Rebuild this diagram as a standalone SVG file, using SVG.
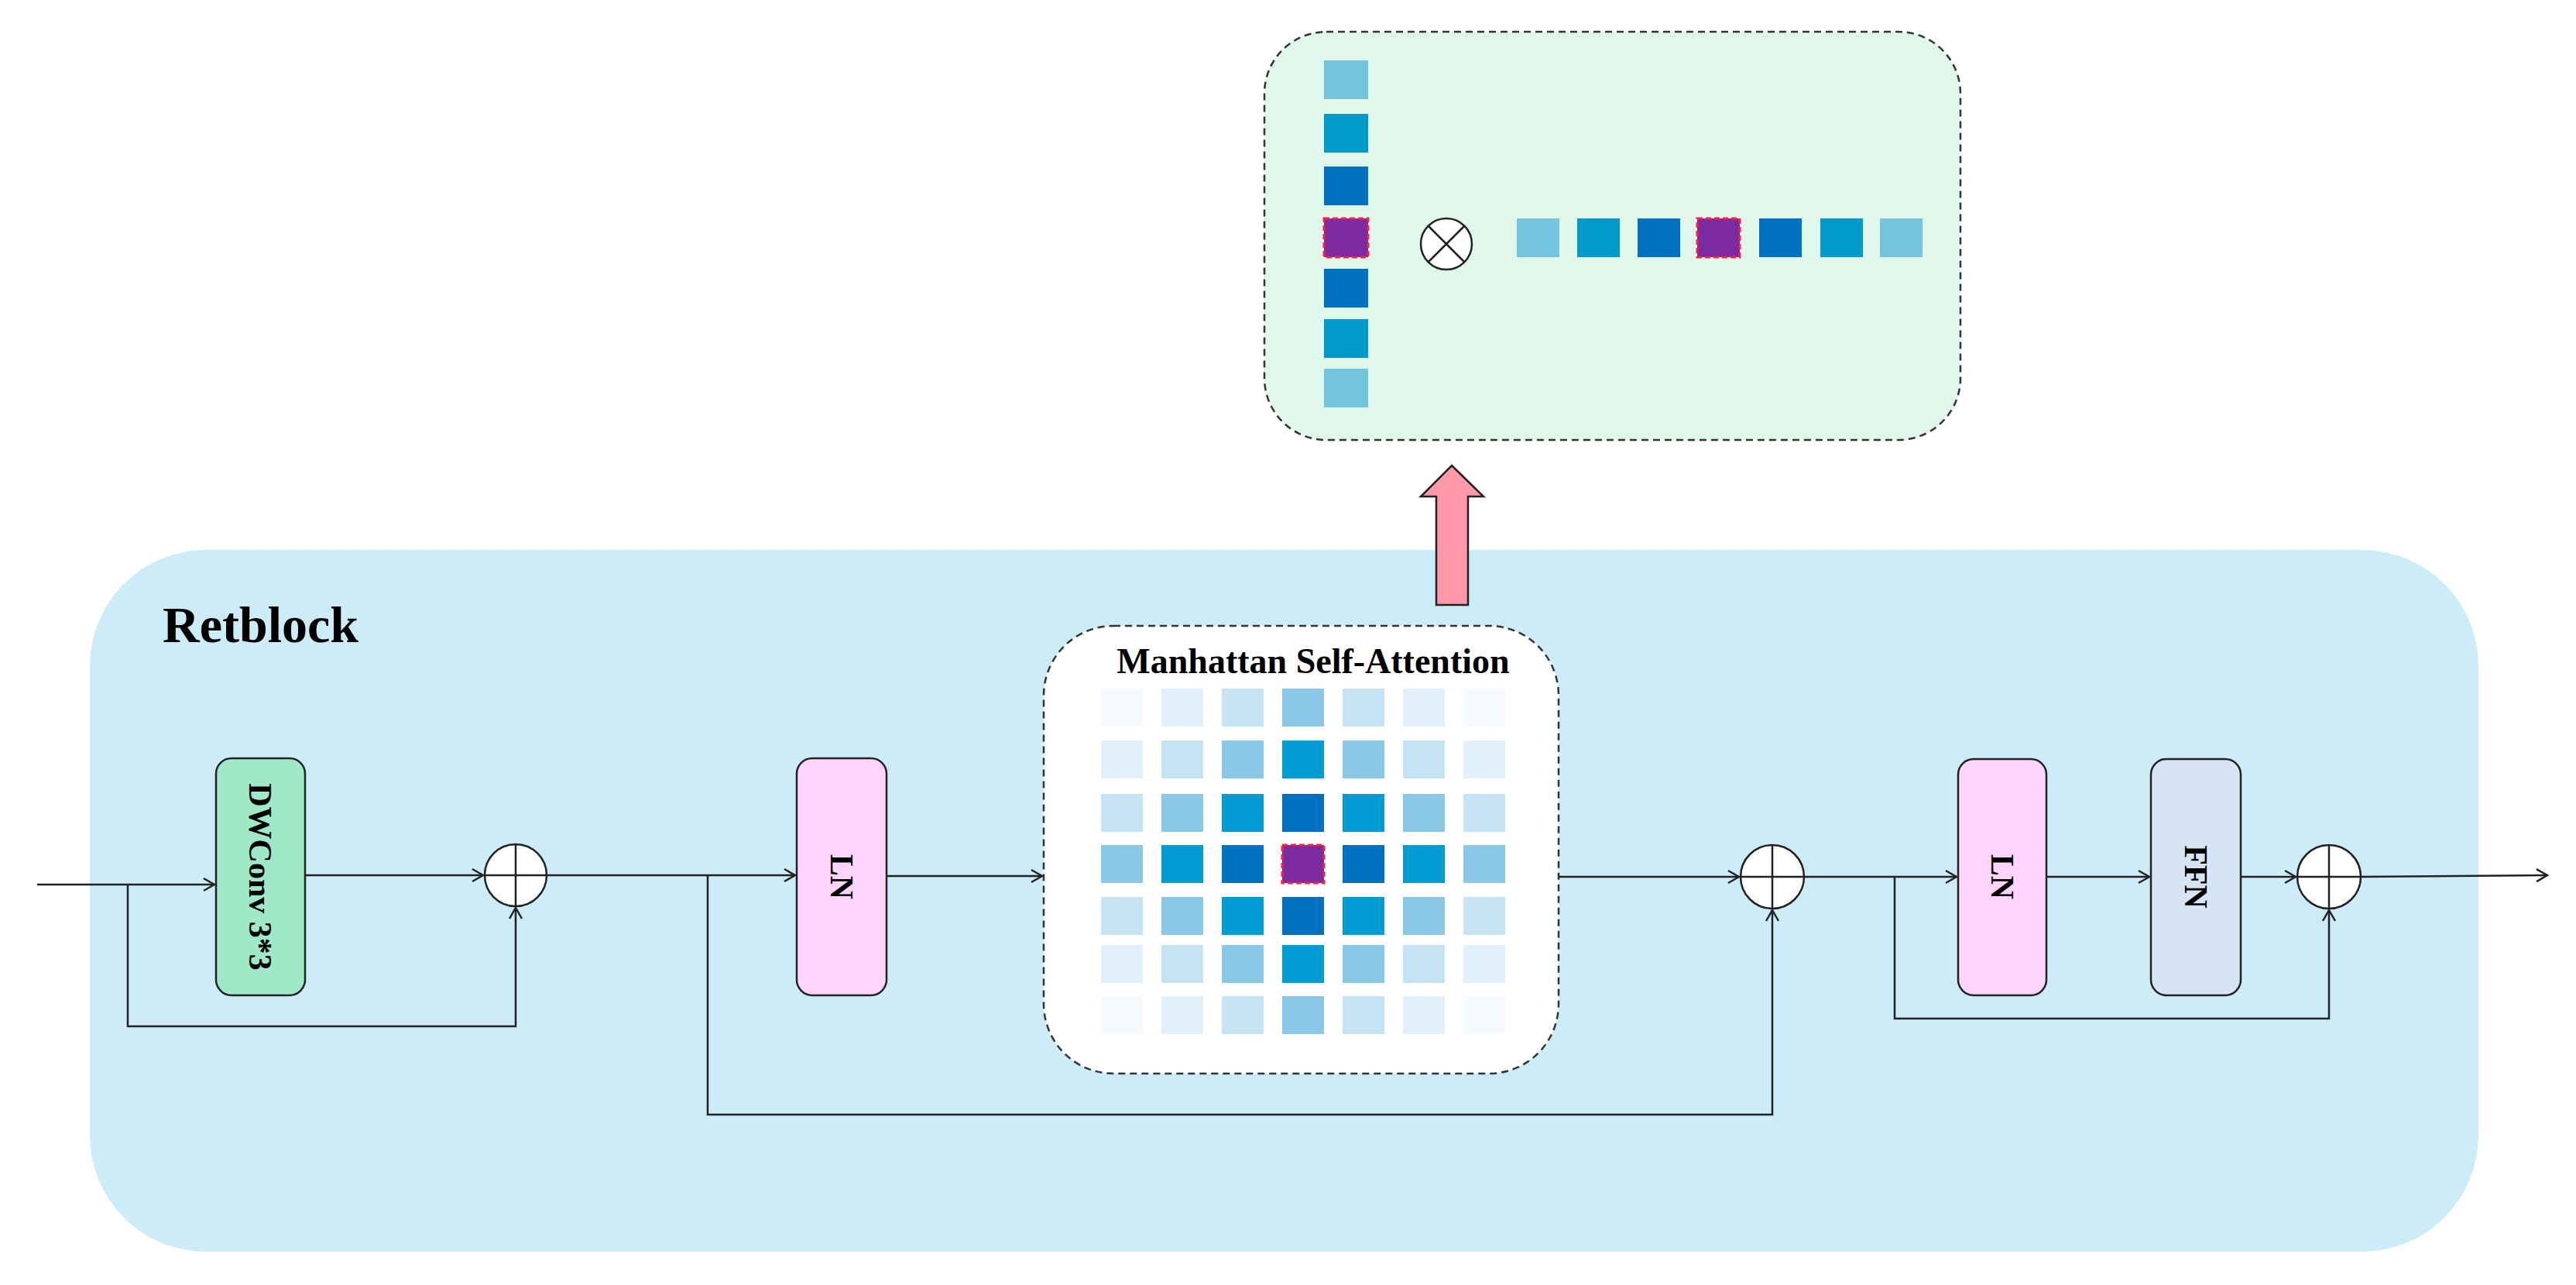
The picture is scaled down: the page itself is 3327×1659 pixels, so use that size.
<svg xmlns="http://www.w3.org/2000/svg" width="3327" height="1659" viewBox="0 0 3327 1659">
<defs>
<marker id="ah" markerWidth="20" markerHeight="20" refX="18" refY="10" orient="auto" markerUnits="userSpaceOnUse">
<path d="M4,2 L18,10 L4,18" fill="none" stroke="#222" stroke-width="2.5"/>
</marker>
</defs>
<style>
.ln{fill:none;stroke:#222;stroke-width:2.5}
.box{stroke:#222;stroke-width:2.5}
.t{font-family:"Liberation Serif","Times New Roman",serif;font-weight:bold;fill:#000}
.add{fill:#fff;stroke:#222;stroke-width:2.5}
.p{fill:#7B2AA0;stroke:#FF2040;stroke-width:3;stroke-dasharray:7 4}
</style>
<rect width="3327" height="1659" fill="#fff"/>
<g id="retblock">
<rect x="116" y="710" width="3085" height="906" rx="150" fill="#CCECF7"/>
<text class="t" x="210" y="829" font-size="66">Retblock</text>
</g>
<g id="top-panel">
<rect x="1633" y="41" width="899" height="527" rx="80" fill="#E0F8EC" stroke="#333" stroke-width="2.5" stroke-dasharray="9 6"/>
<rect x="1710" y="78" width="57" height="50" fill="#73C4DD"/>
<rect x="1710" y="147" width="57" height="50" fill="#0099CC"/>
<rect x="1710" y="215" width="57" height="50" fill="#0070C0"/>
<rect x="1710" y="282" width="57" height="50" class="p"/>
<rect x="1710" y="347" width="57" height="50" fill="#0070C0"/>
<rect x="1710" y="412" width="57" height="50" fill="#0099CC"/>
<rect x="1710" y="476" width="57" height="50" fill="#73C4DD"/>
<circle cx="1868" cy="315" r="33" class="add"/>
<path d="M1845,292 L1891,338 M1891,292 L1845,338" class="ln"/>
<rect x="1959" y="282" width="55" height="50" fill="#73C4DD"/>
<rect x="2037" y="282" width="55" height="50" fill="#0099CC"/>
<rect x="2115" y="282" width="55" height="50" fill="#0070C0"/>
<rect x="2192" y="282" width="55" height="50" class="p"/>
<rect x="2272" y="282" width="55" height="50" fill="#0070C0"/>
<rect x="2351" y="282" width="55" height="50" fill="#0099CC"/>
<rect x="2428" y="282" width="55" height="50" fill="#73C4DD"/>
</g>
<g id="up-arrow">
<path d="M1875,601 L1916,641 L1896,641 L1896,781 L1855,781 L1855,641 L1835,641 Z" fill="#FF98A8" stroke="#222" stroke-width="2.5"/>
</g>
<g id="msa">
<rect x="1348" y="808" width="665" height="578" rx="90" fill="#fff" stroke="#333" stroke-width="2.5" stroke-dasharray="9 6"/>
<text class="t" x="1696" y="869" font-size="46" text-anchor="middle">Manhattan Self-Attention</text>
<g id="grid">
<rect x="1422" y="889" width="54" height="49" fill="#F6FAFE"/><rect x="1500" y="889" width="54" height="49" fill="#E0EFFA"/><rect x="1578" y="889" width="54" height="49" fill="#C5E3F3"/><rect x="1656" y="889" width="54" height="49" fill="#8AC8E8"/><rect x="1734" y="889" width="54" height="49" fill="#C5E3F3"/><rect x="1812" y="889" width="54" height="49" fill="#E0EFFA"/><rect x="1890" y="889" width="54" height="49" fill="#F6FAFE"/>
<rect x="1422" y="956" width="54" height="49" fill="#E0EFFA"/><rect x="1500" y="956" width="54" height="49" fill="#C5E3F3"/><rect x="1578" y="956" width="54" height="49" fill="#8AC8E8"/><rect x="1656" y="956" width="54" height="49" fill="#009BD3"/><rect x="1734" y="956" width="54" height="49" fill="#8AC8E8"/><rect x="1812" y="956" width="54" height="49" fill="#C5E3F3"/><rect x="1890" y="956" width="54" height="49" fill="#E0EFFA"/>
<rect x="1422" y="1025" width="54" height="49" fill="#C5E3F3"/><rect x="1500" y="1025" width="54" height="49" fill="#8AC8E8"/><rect x="1578" y="1025" width="54" height="49" fill="#009BD3"/><rect x="1656" y="1025" width="54" height="49" fill="#0070C0"/><rect x="1734" y="1025" width="54" height="49" fill="#009BD3"/><rect x="1812" y="1025" width="54" height="49" fill="#8AC8E8"/><rect x="1890" y="1025" width="54" height="49" fill="#C5E3F3"/>
<rect x="1422" y="1091" width="54" height="49" fill="#8AC8E8"/><rect x="1500" y="1091" width="54" height="49" fill="#009BD3"/><rect x="1578" y="1091" width="54" height="49" fill="#0070C0"/><rect x="1656" y="1091" width="54" height="49" class="p"/><rect x="1734" y="1091" width="54" height="49" fill="#0070C0"/><rect x="1812" y="1091" width="54" height="49" fill="#009BD3"/><rect x="1890" y="1091" width="54" height="49" fill="#8AC8E8"/>
<rect x="1422" y="1158" width="54" height="49" fill="#C5E3F3"/><rect x="1500" y="1158" width="54" height="49" fill="#8AC8E8"/><rect x="1578" y="1158" width="54" height="49" fill="#009BD3"/><rect x="1656" y="1158" width="54" height="49" fill="#0070C0"/><rect x="1734" y="1158" width="54" height="49" fill="#009BD3"/><rect x="1812" y="1158" width="54" height="49" fill="#8AC8E8"/><rect x="1890" y="1158" width="54" height="49" fill="#C5E3F3"/>
<rect x="1422" y="1220" width="54" height="49" fill="#E0EFFA"/><rect x="1500" y="1220" width="54" height="49" fill="#C5E3F3"/><rect x="1578" y="1220" width="54" height="49" fill="#8AC8E8"/><rect x="1656" y="1220" width="54" height="49" fill="#009BD3"/><rect x="1734" y="1220" width="54" height="49" fill="#8AC8E8"/><rect x="1812" y="1220" width="54" height="49" fill="#C5E3F3"/><rect x="1890" y="1220" width="54" height="49" fill="#E0EFFA"/>
<rect x="1422" y="1286" width="54" height="49" fill="#F6FAFE"/><rect x="1500" y="1286" width="54" height="49" fill="#E0EFFA"/><rect x="1578" y="1286" width="54" height="49" fill="#C5E3F3"/><rect x="1656" y="1286" width="54" height="49" fill="#8AC8E8"/><rect x="1734" y="1286" width="54" height="49" fill="#C5E3F3"/><rect x="1812" y="1286" width="54" height="49" fill="#E0EFFA"/><rect x="1890" y="1286" width="54" height="49" fill="#F6FAFE"/>
</g>
</g>
<g id="dwconv">
<rect x="279" y="979" width="115" height="306" rx="20" fill="#A0E8C8" class="box"/>
<text class="t" font-size="42" text-anchor="middle" transform="translate(322,1132) rotate(90)">DWConv 3*3</text>
</g>
<g id="ln1">
<rect x="1029" y="979" width="116" height="306" rx="20" fill="#FFD5FE" class="box"/>
<text class="t" font-size="42" text-anchor="middle" transform="translate(1073,1132) rotate(90)">LN</text>
</g>
<g id="ln2">
<rect x="2529" y="980" width="114" height="305" rx="20" fill="#FFD5FE" class="box"/>
<text class="t" font-size="42" text-anchor="middle" transform="translate(2572,1132) rotate(90)">LN</text>
</g>
<g id="ffn">
<rect x="2778" y="980" width="116" height="305" rx="20" fill="#D6E4F4" class="box"/>
<text class="t" font-size="42" text-anchor="middle" transform="translate(2822,1132) rotate(90)">FFN</text>
</g>
<g id="add1"><circle cx="666" cy="1130" r="40" class="add"/><path d="M626,1130 H706 M666,1090 V1170" class="ln"/></g>
<g id="add2"><circle cx="2289" cy="1132" r="41" class="add"/><path d="M2248,1132 H2330 M2289,1091 V1173" class="ln"/></g>
<g id="add3"><circle cx="3008" cy="1132" r="41" class="add"/><path d="M2967,1132 H3049 M3008,1091 V1173" class="ln"/></g>
<g id="connectors">
<path d="M48,1142 H277" class="ln" marker-end="url(#ah)"/>
<path d="M165,1142 V1325 H666 V1172" class="ln" marker-end="url(#ah)"/>
<path d="M394,1130 H624" class="ln" marker-end="url(#ah)"/>
<path d="M706,1130 H1027" class="ln" marker-end="url(#ah)"/>
<path d="M914,1130 V1439 H2289 V1175" class="ln" marker-end="url(#ah)"/>
<path d="M1145,1131 H1346" class="ln" marker-end="url(#ah)"/>
<path d="M2013,1132 H2246" class="ln" marker-end="url(#ah)"/>
<path d="M2330,1132 H2527" class="ln" marker-end="url(#ah)"/>
<path d="M2447,1132 V1315 H3008 V1175" class="ln" marker-end="url(#ah)"/>
<path d="M2643,1132 H2776" class="ln" marker-end="url(#ah)"/>
<path d="M2894,1132 H2965" class="ln" marker-end="url(#ah)"/>
<path d="M3049,1132 L3290,1130" class="ln" marker-end="url(#ah)"/>
</g>
</svg>
